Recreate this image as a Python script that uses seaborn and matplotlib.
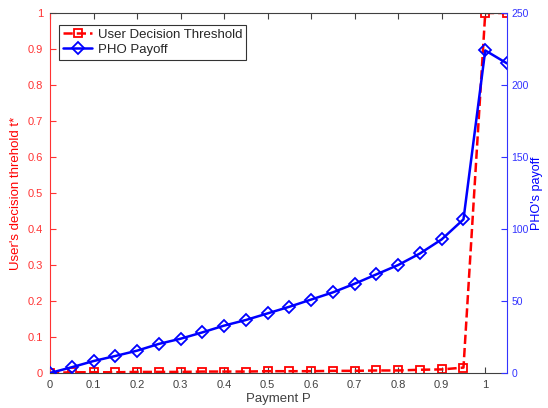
import numpy as np
import pandas as pd
import matplotlib
matplotlib.use("Agg")
import matplotlib.pyplot as plt
import seaborn as sns

# Data
payment = [0.0, 0.05, 0.1, 0.15, 0.2, 0.25, 0.3, 0.35, 0.4, 0.45, 0.5,
           0.55, 0.6, 0.65, 0.7, 0.75, 0.8, 0.85, 0.9, 0.95, 1.0, 1.05]
threshold = [0.0, 0.002, 0.002, 0.002, 0.003, 0.003, 0.003, 0.004, 0.004, 0.004, 0.005,
             0.005, 0.005, 0.006, 0.006, 0.007, 0.007, 0.009, 0.010, 0.015, 1.0, 1.0]
payoff = [0.0, 4.0, 8.3, 11.8, 15.5, 20.2, 23.8, 28.2, 32.9, 36.8, 41.4,
          46.0, 51.0, 56.0, 62.0, 68.5, 75.0, 83.0, 92.8, 106.7, 224.0, 215.0]

x_ticks = [0, 0.1, 0.2, 0.3, 0.4, 0.5, 0.6, 0.7, 0.8, 0.9, 1.0]
x_tick_labels = ["0", "0.1", "0.2", "0.3", "0.4", "0.5", "0.6", "0.7", "0.8", "0.9", "1"]
left_ticks = [0, 0.1, 0.2, 0.3, 0.4, 0.5, 0.6, 0.7, 0.8, 0.9, 1.0]
left_tick_labels = ["0", "0.1", "0.2", "0.3", "0.4", "0.5", "0.6", "0.7", "0.8", "0.9", "1"]
right_ticks = [0, 50, 100, 150, 200, 250]

sns.set_style("white")
plt.rcParams['font.family'] = ['Liberation Sans', 'DejaVu Sans']

RED = "#ff0000"
BLUE = "#0000ff"
AX_RED = "#ff3333"
AX_BLUE = "#3333ff"
GRAY = "#404040"

df = pd.DataFrame({"payment": payment, "threshold": threshold, "payoff": payoff})

fig = plt.figure(figsize=(5.48, 4.08), dpi=100)
ax = fig.add_axes([50 / 548, 35 / 408, 457 / 548, 360 / 408])
ax2 = ax.twinx()

sns.lineplot(data=df, x="payment", y="threshold", ax=ax, color=RED, linestyle="--",
             linewidth=1.8, marker="s", markersize=6, markerfacecolor="none",
             markeredgecolor=RED, markeredgewidth=1.3, label="User Decision Threshold",
             legend=False)
sns.lineplot(data=df, x="payment", y="payoff", ax=ax2, color=BLUE, linestyle="-",
             linewidth=1.8, marker="D", markersize=6.5, markerfacecolor="none",
             markeredgecolor=BLUE, markeredgewidth=1.3, label="PHO Payoff",
             legend=False)

ax.set_xlim(0, 1.05)
ax.set_ylim(0, 1)
ax2.set_ylim(0, 250)

ax.set_xticks(x_ticks)
ax.set_xticklabels(x_tick_labels)
ax.set_yticks(left_ticks)
ax.set_yticklabels(left_tick_labels)
ax2.set_yticks(right_ticks)

ax.tick_params(axis="x", direction="in", length=4, colors=GRAY, labelsize=8,
               top=True, bottom=True, pad=5)
ax.tick_params(axis="y", direction="in", length=4, colors=AX_RED, labelsize=8, pad=5)
ax2.tick_params(axis="y", direction="in", length=4, colors=AX_BLUE, labelsize=7.5, pad=3)

for side in ["top", "bottom"]:
    ax.spines[side].set_color(GRAY)
    ax2.spines[side].set_visible(False)
ax.spines["left"].set_color(AX_RED)
ax2.spines["left"].set_visible(False)
ax2.spines["right"].set_color(AX_BLUE)
ax.spines["right"].set_visible(False)
for sp in list(ax.spines.values()) + list(ax2.spines.values()):
    sp.set_linewidth(0.8)

ax.set_xlabel("Payment P", color=GRAY, fontsize=9.5, labelpad=2)
ax.set_ylabel("User's decision threhold t*", color=RED, fontsize=9.5, labelpad=4)
ax2.set_ylabel("PHO's payoff", color=BLUE, fontsize=9, labelpad=2)

h1, l1 = ax.get_legend_handles_labels()
h2, l2 = ax2.get_legend_handles_labels()
leg = ax2.legend(h1 + h2, l1 + l2, loc="upper left", bbox_to_anchor=(0.015, 0.975),
                 fontsize=9.5, frameon=True, fancybox=False, borderpad=0.3,
                 handlelength=2.2, handletextpad=0.4, labelspacing=0.2,
                 borderaxespad=0.2)
leg.get_frame().set_edgecolor("black")
leg.get_frame().set_linewidth(0.8)

fig.savefig("out.png", dpi=100)
